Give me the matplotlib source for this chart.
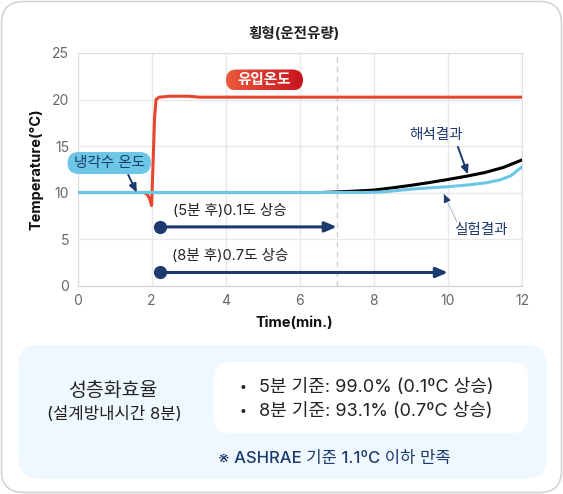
import numpy as np
import matplotlib
matplotlib.use('Agg')
import matplotlib.pyplot as plt
from matplotlib.patches import FancyBboxPatch
from matplotlib.colors import LinearSegmentedColormap

# Inter for latin, Noto CJK for hangul (close to Pretendard)
plt.rcParams['font.family'] = ['Inter', 'Noto Sans CJK KR', 'DejaVu Sans']

# ---- data ----
t_inlet = [0, 1.8, 1.88, 1.95, 2.0, 2.03, 2.08, 2.12, 2.2, 2.5, 3.0, 3.3, 12]
T_inlet = [10, 10, 9.8, 9.3, 8.6, 12.0, 18.0, 20.0, 20.25, 20.35, 20.35, 20.25, 20.25]

t_sim = [0, 6.6, 7.0, 7.5, 8.0, 8.5, 9.0, 9.5, 10, 10.5, 11, 11.5, 12]
T_sim = [10, 10, 10.06, 10.15, 10.26, 10.5, 10.77, 11.07, 11.4, 11.75, 12.15, 12.7, 13.5]

t_exp = [0, 7.3, 7.8, 8.2, 8.6, 9.07, 9.5, 10, 10.5, 11, 11.4, 11.7, 12]
T_exp = [10, 10, 10.0, 10.05, 10.2, 10.38, 10.5, 10.62, 10.8, 11.02, 11.35, 11.8, 12.77]

rise_start = 2.22
rise_ends = [7.0, 10.0]
rise_y = [6.3, 1.4]
rise_labels = ['(5분 후)0.1도 상승', '(8분 후)0.7도 상승']

xticks = [0, 2, 4, 6, 8, 10, 12]
yticks = [0, 5, 10, 15, 20, 25]

eff_lines = ['5분 기준: 99.0% (0.1ºC 상승)', '8분 기준: 93.1% (0.7ºC 상승)']

RED = '#e8452f'
SKY = '#6cc6e6'
NAVY = '#1d3a6e'
INK = '#222222'

W, H = 563, 494
fig = plt.figure(figsize=(W / 100, H / 100), dpi=100)

# background layer in pixel coordinates
bg = fig.add_axes([0, 0, 1, 1], zorder=0)
bg.set_xlim(0, W); bg.set_ylim(H, 0); bg.axis('off')
bg.add_patch(FancyBboxPatch((1.5, 1.5), W - 3, H - 3, boxstyle='round,pad=0,rounding_size=22',
                            fc='white', ec='#d4d4d4', lw=1.2))
bg.add_patch(FancyBboxPatch((18, 345), 528.5, 133.5, boxstyle='round,pad=0,rounding_size=20',
                            fc='#eff8fe', ec='none'))
bg.add_patch(FancyBboxPatch((214, 362), 314.5, 71, boxstyle='round,pad=0,rounding_size=16',
                            fc='white', ec='none'))
bg.text(294, 34, '횡형(운전유량)', ha='center', va='center', fontsize=10.5, fontweight='bold', color=INK)
bg.text(113, 391, '성층화효율', ha='center', va='center', fontsize=14, color=INK)
bg.text(114, 414, '(설계방내시간 8분)', ha='center', va='center', fontsize=12, color=INK)
for yy, s in zip([387.5, 411.5], eff_lines):
    bg.text(243, yy, '•', ha='center', va='center', fontsize=9, color=INK)
    bg.text(259, yy, s, ha='left', va='center', fontsize=13, color=INK)
bg.text(334, 458, '※ ASHRAE 기준 1.1ºC 이하 만족', ha='center', va='center', fontsize=12,
        color=NAVY, fontweight='medium')

# main chart
ax = fig.add_axes([77.5 / W, 1 - 285.5 / H, 444.5 / W, 232.5 / H], zorder=1)
ax.set_xlim(0, 12); ax.set_ylim(0, 25)
ax.set_xticks(xticks); ax.set_yticks(yticks)
ax.grid(True, color='#e8e8e8', lw=1)
ax.set_axisbelow(True)
for sp in ax.spines.values():
    sp.set_color('#e0e0e0')
ax.spines['bottom'].set_color('#d0d0d0')
ax.tick_params(length=0, labelsize=10, labelcolor='#666666', pad=6)
ax.set_xlabel('Time(min.)', fontsize=10.5, fontweight='bold', color='#111111')
ax.xaxis.set_label_coords(0.487, -0.13)
ax.set_ylabel('Temperature(°C)', fontsize=10.5, fontweight='bold', labelpad=6, color='#111111')
ax.axvline(7, color='#cfcfcf', lw=1, ls=(0, (4, 3)), zorder=1)

ax.plot(t_inlet, T_inlet, color=RED, lw=2.2, zorder=3, solid_joinstyle='round')
ax.plot(t_sim, T_sim, color='black', lw=2.2, zorder=4)
ax.plot(t_exp, T_exp, color=SKY, lw=2.2, zorder=5)

for xe, yy, lab in zip(rise_ends, rise_y, rise_labels):
    ax.annotate('', xy=(xe, yy), xytext=(rise_start, yy),
                arrowprops=dict(arrowstyle='-|>,head_length=0.7,head_width=0.3', color=NAVY, lw=2.2,
                                shrinkA=0, shrinkB=0), zorder=6)
    ax.plot([rise_start], [yy], 'o', color=NAVY, ms=8.5, zorder=7)
    ax.text(4.11, yy + 1.75, lab, ha='center', va='center', fontsize=10.5, color=INK)

# callouts
ax.annotate('', xy=(1.6, 10.0), xytext=(1.37, 11.9),
            arrowprops=dict(arrowstyle='-|>,head_length=0.5,head_width=0.22', color=NAVY, lw=1.4,
                            shrinkA=0, shrinkB=0), zorder=6)
ax.text(9.68, 16.2, '해석결과', ha='center', va='center', fontsize=10.5, color=NAVY)
ax.annotate('', xy=(10.54, 11.95), xytext=(10.27, 14.9),
            arrowprops=dict(arrowstyle='-|>,head_length=0.5,head_width=0.22', color=NAVY, lw=1.4,
                            shrinkA=0, shrinkB=0), zorder=6)
ax.text(10.89, 6.0, '실험결과', ha='center', va='center', fontsize=10.5, color=NAVY)
ax.annotate('', xy=(9.89, 9.84), xytext=(10.24, 6.85),
            arrowprops=dict(arrowstyle='-', color='#a8b4c8', lw=0.7, shrinkA=0, shrinkB=0), zorder=6)
ax.annotate('', xy=(9.89, 9.84), xytext=(9.95, 9.3),
            arrowprops=dict(arrowstyle='-|>,head_length=0.5,head_width=0.22', color=NAVY, lw=0.7,
                            shrinkA=0, shrinkB=0), zorder=6)

# pill labels on top, pixel coordinates
ov = fig.add_axes([0, 0, 1, 1], zorder=2)
ov.axis('off')
ov.patch.set_alpha(0)
pill = FancyBboxPatch((226, 69.5), 77, 21, boxstyle='round,pad=0,rounding_size=10.5', fc='none', ec='none')
ov.add_patch(pill)
grad = np.linspace(0, 1, 256).reshape(1, -1)
cmap = LinearSegmentedColormap.from_list('redg', ['#ea5a3c', '#c8141e'])
im = ov.imshow(grad, cmap=cmap, extent=(226, 303, 90.5, 69.5), aspect='auto', zorder=3)
im.set_clip_path(pill)
ov.text(264.5, 80, '유입온도', ha='center', va='center', fontsize=10.5, fontweight='bold', color='white', zorder=4)
ov.add_patch(FancyBboxPatch((67.5, 152), 83.5, 22, boxstyle='round,pad=0,rounding_size=11', fc=SKY, ec='none'))
ov.text(109, 163, '냉각수 온도', ha='center', va='center', fontsize=10.5, color=NAVY, zorder=4)
ov.set_xlim(0, W); ov.set_ylim(H, 0)

fig.savefig('out.png', dpi=100)
